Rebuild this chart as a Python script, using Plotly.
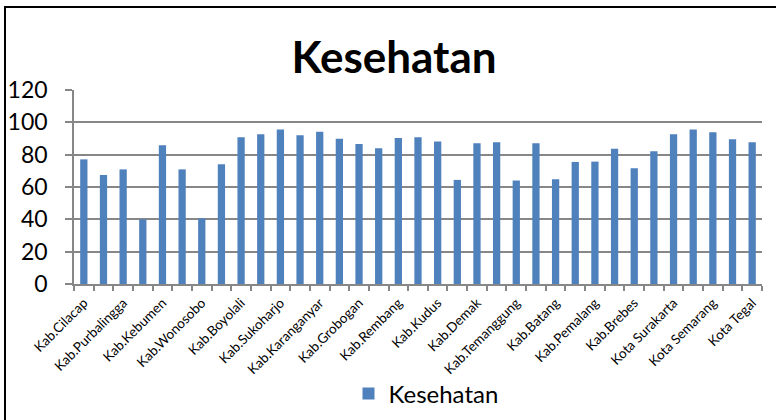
import plotly.graph_objects as go

# Central Java regencies / cities and their health index
regions = [
    "Kab.Cilacap", "Kab.Banyumas", "Kab.Purbalingga", "Kab.Banjarnegara",
    "Kab.Kebumen", "Kab.Purworejo", "Kab.Wonosobo", "Kab.Magelang",
    "Kab.Boyolali", "Kab.Klaten", "Kab.Sukoharjo", "Kab.Wonogiri",
    "Kab.Karanganyar", "Kab.Sragen", "Kab.Grobogan", "Kab.Blora",
    "Kab.Rembang", "Kab.Pati", "Kab.Kudus", "Kab.Jepara",
    "Kab.Demak", "Kab.Semarang", "Kab.Temanggung", "Kab.Kendal",
    "Kab.Batang", "Kab.Pekalongan", "Kab.Pemalang", "Kab.Tegal",
    "Kab.Brebes", "Kota Magelang", "Kota Surakarta", "Kota Salatiga",
    "Kota Semarang", "Kota Pekalongan", "Kota Tegal",
]
kesehatan = [
    77.1, 67.4, 70.9, 40.0, 85.8, 70.9, 40.6, 74.0,
    90.7, 92.6, 95.5, 92.0, 94.2, 89.9, 86.6, 83.9,
    90.3, 90.7, 88.1, 64.4, 87.0, 87.7, 64.0, 87.0,
    64.8, 75.5, 75.7, 83.7, 71.6, 82.1, 92.6, 95.5,
    93.8, 89.5, 87.7,
]
y_ticks = [0, 20, 40, 60, 80, 100, 120]

# every other region name is printed under the axis
tick_text = [name if i % 2 == 0 else "" for i, name in enumerate(regions)]

W, H = 776, 420
L, R, T, B = 74, 14, 90, 136
pw, ph = W - L - R, H - T - B


def px_x(x):
    return (x - L) / pw


def px_y(y):
    return (H - B - y) / ph


fig = go.Figure(
    go.Bar(
        x=regions,
        y=kesehatan,
        name="Kesehatan",
        marker=dict(color="#4F81BD", line=dict(width=0)),
    )
)

grid = "#878787"
fig.update_layout(
    width=W,
    height=H,
    margin=dict(l=L, r=R, t=T, b=B, pad=0, autoexpand=False),
    paper_bgcolor="white",
    plot_bgcolor="white",
    bargap=0.63,
    font=dict(family="Lato", color="black"),
    title=dict(
        text="<b>Kesehatan</b>",
        x=394 / W,
        xanchor="center",
        y=1 - 58 / H,
        yanchor="middle",
        font=dict(family="Lato", size=44, color="black"),
    ),
    showlegend=True,
    legend=dict(
        x=px_x(426),
        xanchor="center",
        y=px_y(394),
        yanchor="middle",
        font=dict(family="Lato", size=24, color="black"),
        bgcolor="rgba(0,0,0,0)",
    ),
    xaxis=dict(
        type="category",
        categoryorder="array",
        categoryarray=regions,
        tickmode="array",
        tickvals=regions,
        ticktext=tick_text,
        tickangle=-45,
        tickson="boundaries",
        ticks="outside",
        ticklen=5,
        tickwidth=1.5,
        tickcolor=grid,
        showline=True,
        linecolor=grid,
        linewidth=1.5,
        showgrid=False,
        automargin=False,
        ticklabelstandoff=4,
        tickfont=dict(family="Lato", size=13.5, color="black"),
    ),
    yaxis=dict(
        range=[0, 120],
        tickmode="array",
        tickvals=y_ticks,
        ticks="outside",
        ticklen=7,
        tickwidth=1.5,
        tickcolor=grid,
        showline=True,
        linecolor=grid,
        linewidth=1.5,
        showgrid=True,
        gridcolor=grid,
        gridwidth=1.5,
        zeroline=False,
        automargin=False,
        ticklabelstandoff=13,
        tickfont=dict(family="Lato", size=23, color="black"),
    ),
    shapes=[
        # outer chart frame (top and left edges)
        dict(type="line", xref="paper", yref="paper",
             x0=px_x(4), x1=px_x(790), y0=px_y(7), y1=px_y(7),
             line=dict(color="black", width=2)),
        dict(type="line", xref="paper", yref="paper",
             x0=px_x(5), x1=px_x(5), y0=px_y(7), y1=px_y(440),
             line=dict(color="black", width=2)),
    ],
)

fig.write_html("out.html")
